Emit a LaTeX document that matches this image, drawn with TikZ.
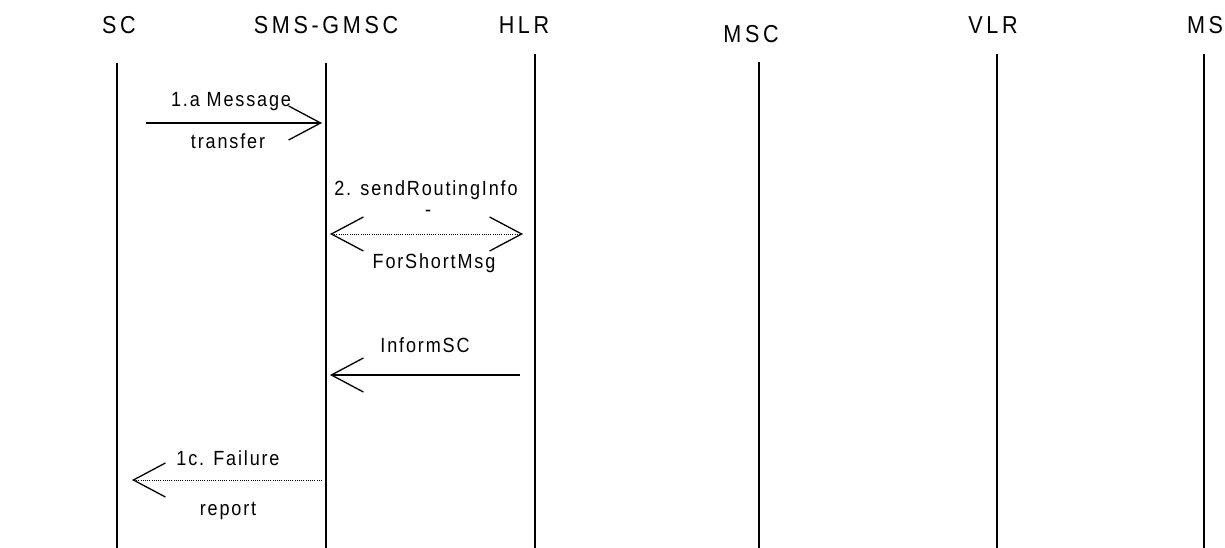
\documentclass[tikz,border=0pt]{standalone}
\usepackage{fontspec}
\setmainfont{Liberation Sans}
\newfontfamily\headfont{Liberation Sans}[FakeStretch=0.88,LetterSpace=15]
\newfontfamily\lblfont{Liberation Sans}[FakeStretch=0.88,LetterSpace=9]
\usetikzlibrary{arrows.meta}
\begin{document}
\begin{tikzpicture}[x=1pt,y=-1pt,
  head/.style={font=\headfont\fontsize{24.5}{26}\selectfont,anchor=base,inner sep=0pt},
  lbl/.style={font=\lblfont\fontsize{20.5}{22}\selectfont,anchor=base,inner sep=0pt},
  life/.style={line width=1.6pt},
  msg/.style={line width=1.4pt,-{Straight Barb[length=32pt,width=34pt,line width=1.3pt]}},
  dmsg/.style={line width=1pt,dash pattern=on 1pt off 1.2pt,-{Straight Barb[length=32pt,width=34pt,line width=1.3pt]}}]
\useasboundingbox (0,0) rectangle (1225,548);
% headers
\node[head] (hSC)   at (119,34) {SC};
\node[head] (hGMSC) at (326,34) {SMS-GMSC};
\node[head] (hHLR)  at (524,34) {HLR};
\node[head] (hMSC)  at (751,43) {MSC};
\node[head] (hVLR)  at (993,34) {VLR};
\node[head] (hMS)   at (1205,34) {MS};
% lifelines
\coordinate (sc1) at (117,63);   \coordinate (sc2) at (117,548);
\coordinate (gm1) at (326,63);   \coordinate (gm2) at (326,548);
\coordinate (hl1) at (535,54);   \coordinate (hl2) at (535,548);
\coordinate (ms1) at (759,62);   \coordinate (ms2) at (759,548);
\coordinate (vl1) at (997,54);   \coordinate (vl2) at (997,548);
\coordinate (mo1) at (1204,54);  \coordinate (mo2) at (1204,548);
\draw[life] (sc1) -- (sc2);
\draw[life] (gm1) -- (gm2);
\draw[life] (hl1) -- (hl2);
\draw[life] (ms1) -- (ms2);
\draw[life] (vl1) -- (vl2);
\draw[life] (mo1) -- (mo2);
% message 1a
\coordinate (a1) at (146,123); \coordinate (a2) at (322,123);
\draw[msg] (a1) -- (a2);
\node[lbl] (t1a) at (231,107) {1.a Message};
\node[lbl] (t1b) at (228,149) {transfer};
% message 2
\coordinate (b1) at (330,234); \coordinate (b2) at (523,234);
\draw[dmsg,{Straight Barb[length=32pt,width=34pt,line width=1.3pt]}-{Straight Barb[length=32pt,width=34pt,line width=1.3pt]}] (b1) -- (b2);
\node[lbl] (t2a) at (426,195) {2. sendRoutingInfo};
\node[lbl] (t2b) at (428,216) {-};
\node[lbl] (t2c) at (434,268) {ForShortMsg};
% InformSC
\coordinate (c1) at (520,375); \coordinate (c2) at (330,375);
\draw[msg] (c1) -- (c2);
\node[lbl] (t3) at (425,352) {InformSC};
% failure report
\coordinate (d1) at (322,480); \coordinate (d2) at (132,480);
\draw[dmsg] (d1) -- (d2);
\node[lbl] (t4a) at (228,465) {1c. Failure};
\node[lbl] (t4b) at (228,515) {report};
\end{tikzpicture}
\end{document}
